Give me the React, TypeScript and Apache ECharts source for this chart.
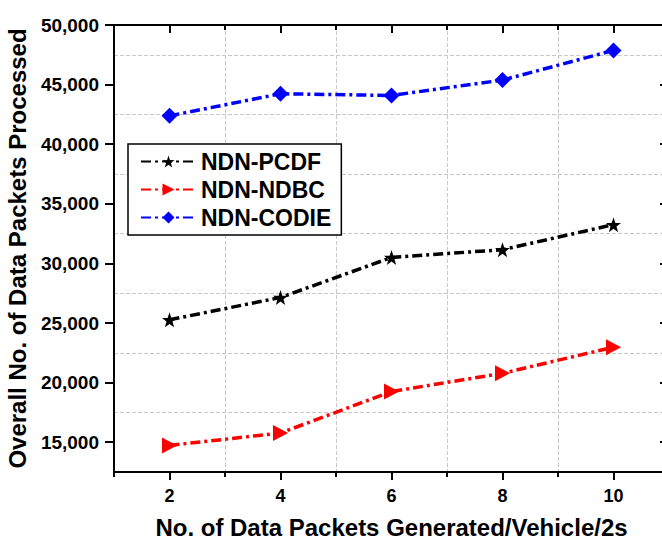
import React, { useEffect, useRef } from 'react';
import * as echarts from 'echarts';

const xCategories = [2, 4, 6, 8, 10];
const pcdfValues = [25270, 27140, 30500, 31150, 33250];
const ndbcValues = [14730, 15770, 19250, 20780, 22970];
const codieValues = [42380, 44230, 44090, 45380, 47870];
const yTickValues = [15000, 20000, 25000, 30000, 35000, 40000, 45000, 50000];
const seriesNames = ['NDN-PCDF', 'NDN-NDBC', 'NDN-CODIE'];

const STAR = 'path://M50,0 L61.8,35.1 L97.6,34.5 L69,56 L79.4,90.5 L50,70 L20.6,90.5 L31,56 L2.4,34.5 L38.2,35.1 Z';

export default function App() {
  const ref = useRef<HTMLDivElement>(null);
  useEffect(() => {
    const chart = echarts.init(ref.current!, null, { renderer: 'svg' });
    const font = "'Liberation Sans', Arial, sans-serif";
    const blackLine = { color: '#000', width: 2 };
    const axisLine = { show: true, onZero: false, lineStyle: blackLine };
    const grid = { color: '#c8c8c8', type: 'dashed', width: 1 };
    const toPairs = (vals: number[]) => vals.map((v, i) => [xCategories[i], v]);
    const dash = [10, 4, 3, 4];
    chart.setOption({
      animation: false,
      backgroundColor: '#fff',
      grid: { left: 114, right: 11, top: 25, bottom: 68, containLabel: false, outerBoundsMode: 'none' },
      xAxis: [
        {
          type: 'value', position: 'bottom', min: 1, max: 11,
          axisLine,
          axisTick: { show: true, inside: false, length: 8, customValues: xCategories, lineStyle: blackLine },
          axisLabel: { show: true, customValues: xCategories, fontSize: 18, fontWeight: 'bold', color: '#000', fontFamily: font, margin: 15 },
          splitLine: { show: false },
          name: 'No. of Data Packets Generated/Vehicle/2s',
          nameLocation: 'middle', nameGap: 43,
          nameTextStyle: { fontSize: 24, fontWeight: 'bold', color: '#000', fontFamily: font },
        },
        {
          type: 'value', position: 'bottom', min: 1, max: 11, interval: 2,
          axisLine: { show: false },
          axisTick: { show: true, inside: false, length: 5, lineStyle: blackLine },
          axisLabel: { show: false },
          splitLine: { show: true, lineStyle: grid },
        },
        {
          type: 'value', position: 'top', min: 1, max: 11,
          axisLine,
          axisTick: { show: true, inside: true, length: 8, customValues: xCategories, lineStyle: blackLine },
          axisLabel: { show: false },
          splitLine: { show: false },
        },
        {
          type: 'value', position: 'top', min: 1, max: 11, interval: 2,
          axisLine: { show: false },
          axisTick: { show: true, inside: true, length: 5, lineStyle: blackLine },
          axisLabel: { show: false },
          splitLine: { show: false },
        },
      ],
      yAxis: [
        {
          type: 'value', position: 'left', min: 12500, max: 50000,
          axisLine,
          axisTick: { show: true, inside: false, length: 9, customValues: yTickValues, lineStyle: blackLine },
          axisLabel: {
            show: true, customValues: yTickValues, fontSize: 19, fontWeight: 'bold', color: '#000', fontFamily: font, margin: 15,
            formatter: (v: number) => v.toLocaleString('en-US'),
          },
          splitLine: { show: false },
          name: 'Overall No. of Data Packets Processed',
          nameLocation: 'middle', nameGap: 79, nameRotate: 90,
          nameTextStyle: { fontSize: 24, fontWeight: 'bold', color: '#000', fontFamily: font },
        },
        {
          type: 'value', position: 'left', min: 12500, max: 50000, interval: 5000,
          axisLine: { show: false },
          axisTick: { show: false },
          axisLabel: { show: false },
          splitLine: { show: true, lineStyle: grid },
        },
        {
          type: 'value', position: 'right', min: 12500, max: 50000,
          axisLine,
          axisTick: { show: true, inside: true, length: 9, customValues: yTickValues, lineStyle: blackLine },
          axisLabel: { show: false },
          splitLine: { show: false },
        },
      ],
      legend: {
        orient: 'vertical', left: 128, top: 144,
        padding: [6, 10, 6, 12],
        itemWidth: 55, itemHeight: 15, itemGap: 5,
        borderColor: '#000', borderWidth: 1.5, backgroundColor: '#fff',
        textStyle: { fontSize: 23, fontWeight: 'bold', color: '#000', fontFamily: font },
        data: seriesNames,
      },
      series: [
        {
          name: seriesNames[0], type: 'line', data: toPairs(pcdfValues),
          symbol: STAR, symbolSize: 15,
          lineStyle: { color: '#000', width: 3.5, type: dash },
          itemStyle: { color: '#000' },
          z: 5,
        },
        {
          name: seriesNames[1], type: 'line', data: toPairs(ndbcValues),
          symbol: 'triangle', symbolSize: [16, 15], symbolRotate: -90,
          lineStyle: { color: '#ff0000', width: 3.5, type: dash },
          itemStyle: { color: '#ff0000' },
          z: 5,
        },
        {
          name: seriesNames[2], type: 'line', data: toPairs(codieValues),
          symbol: 'diamond', symbolSize: [16, 16],
          lineStyle: { color: '#0000ff', width: 3.5, type: dash },
          itemStyle: { color: '#0000ff' },
          z: 5,
        },
      ],
    });
    return () => chart.dispose();
  }, []);
  return (
    <div style={{ position: 'fixed', left: 0, top: 0, width: 662, height: 540, overflow: 'hidden', background: '#fff' }}>
      <div ref={ref} style={{ width: 680, height: 540 }} />
    </div>
  );
}
